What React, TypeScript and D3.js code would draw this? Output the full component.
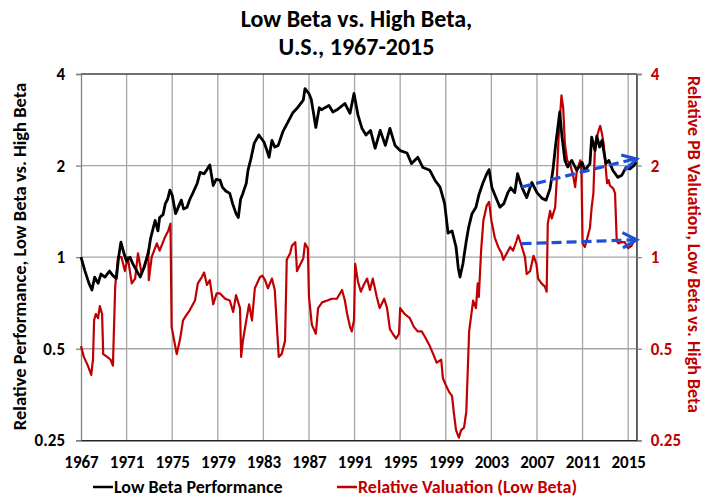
import React, { useEffect, useRef } from 'react';
import * as d3 from 'd3';

// [year, value]
const lowBetaPerf: [number, number][] = [
  [1967.0, 1.0], [1967.35, 0.9], [1967.7, 0.82], [1967.96, 0.78], [1968.2, 0.86], [1968.5, 0.82],
  [1968.75, 0.88], [1969.1, 0.86], [1969.5, 0.9], [1969.8, 0.87], [1970.1, 0.85], [1970.3, 1.0],
  [1970.5, 1.12], [1970.8, 1.02], [1971.0, 0.97], [1971.3, 1.0], [1971.55, 0.95], [1971.9, 0.9],
  [1972.2, 0.86], [1972.5, 0.92], [1972.9, 1.03], [1973.1, 1.15], [1973.5, 1.32], [1973.75, 1.22],
  [1973.9, 1.35], [1974.2, 1.38], [1974.4, 1.5], [1974.6, 1.55], [1974.8, 1.66], [1975.0, 1.6],
  [1975.3, 1.39], [1975.6, 1.48], [1975.8, 1.54], [1976.0, 1.44], [1976.3, 1.46], [1976.55, 1.55],
  [1976.8, 1.62], [1977.2, 1.75], [1977.45, 1.9], [1977.8, 1.88], [1978.05, 1.94], [1978.3, 2.01],
  [1978.6, 1.72], [1978.85, 1.8], [1979.2, 1.79], [1979.4, 1.7], [1979.7, 1.65], [1980.05, 1.62],
  [1980.3, 1.5], [1980.6, 1.39], [1980.8, 1.35], [1981.0, 1.55], [1981.2, 1.62], [1981.5, 1.75],
  [1981.65, 1.93], [1981.9, 2.1], [1982.2, 2.37], [1982.6, 2.52], [1983.05, 2.39], [1983.3, 2.25],
  [1983.5, 2.13], [1983.75, 2.42], [1984.0, 2.3], [1984.3, 2.33], [1984.7, 2.58], [1985.15, 2.78],
  [1985.6, 2.99], [1986.0, 3.1], [1986.5, 3.28], [1986.65, 3.58], [1987.0, 3.45], [1987.2, 3.3],
  [1987.4, 2.97], [1987.6, 2.67], [1987.9, 3.1], [1988.1, 3.05], [1988.4, 3.1], [1988.75, 3.15],
  [1989.1, 3.0], [1989.45, 3.05], [1989.7, 3.1], [1990.15, 3.2], [1990.6, 2.97], [1990.95, 3.45],
  [1991.3, 2.93], [1991.65, 2.65], [1992.0, 2.52], [1992.4, 2.61], [1992.8, 2.28], [1993.25, 2.61],
  [1993.7, 2.33], [1994.1, 2.65], [1994.55, 2.33], [1995.0, 2.24], [1995.6, 2.2], [1996.0, 2.03],
  [1996.55, 2.13], [1997.0, 1.97], [1997.6, 1.93], [1998.05, 1.79], [1998.5, 1.7], [1998.9, 1.5],
  [1999.2, 1.2], [1999.55, 1.22], [1999.9, 1.08], [2000.1, 0.92], [2000.25, 0.86], [2000.5, 0.95],
  [2000.8, 1.13], [2001.0, 1.25], [2001.3, 1.39], [2001.65, 1.46], [2001.9, 1.6], [2002.25, 1.75],
  [2002.6, 1.88], [2002.8, 1.94], [2003.05, 1.69], [2003.4, 1.57], [2003.75, 1.46], [2004.1, 1.5],
  [2004.45, 1.63], [2004.7, 1.69], [2005.05, 1.63], [2005.3, 1.88], [2005.7, 1.69], [2006.1, 1.57],
  [2006.55, 1.76], [2007.0, 1.63], [2007.45, 1.56], [2007.8, 1.54], [2008.15, 1.68], [2008.4, 1.93],
  [2008.65, 2.36], [2008.85, 2.7], [2009.0, 3.0], [2009.2, 2.48], [2009.45, 2.08], [2009.7, 1.98],
  [2010.05, 2.08], [2010.5, 1.93], [2010.95, 2.05], [2011.2, 1.93], [2011.65, 2.03], [2011.8, 2.48],
  [2012.1, 2.24], [2012.25, 2.5], [2012.5, 2.3], [2012.7, 2.42], [2013.05, 2.03], [2013.3, 2.08],
  [2013.65, 1.93], [2014.1, 1.83], [2014.45, 1.86], [2014.8, 1.97], [2015.15, 1.95], [2015.5, 2.0],
  [2015.7, 2.05],
];

const relValuation: [number, number][] = [
  [1967.0, 0.51], [1967.25, 0.47], [1967.6, 0.44], [1967.9, 0.41], [1968.05, 0.46], [1968.15, 0.62],
  [1968.3, 0.65], [1968.5, 0.63], [1968.65, 0.69], [1968.85, 0.65], [1968.95, 0.48], [1969.3, 0.47],
  [1969.6, 0.46], [1969.8, 0.44], [1970.0, 0.8], [1970.25, 1.0], [1970.55, 1.0], [1970.85, 0.9],
  [1971.1, 1.0], [1971.45, 0.82], [1971.75, 0.85], [1972.0, 1.03], [1972.3, 0.89], [1972.6, 0.93],
  [1972.9, 1.05], [1972.95, 0.84], [1973.2, 1.0], [1973.65, 1.11], [1973.9, 1.05], [1974.35, 1.16],
  [1974.65, 1.22], [1974.85, 1.29], [1974.95, 0.59], [1975.4, 0.48], [1975.7, 0.54], [1975.95, 0.62],
  [1976.3, 0.65], [1976.55, 0.67], [1977.0, 0.72], [1977.25, 0.82], [1977.6, 0.86], [1977.8, 0.89],
  [1978.05, 0.81], [1978.3, 0.84], [1978.6, 0.7], [1978.9, 0.76], [1979.2, 0.76], [1979.65, 0.73],
  [1980.05, 0.72], [1980.35, 0.66], [1980.6, 0.75], [1980.95, 0.68], [1981.05, 0.47], [1981.2, 0.53],
  [1981.5, 0.62], [1981.75, 0.7], [1982.0, 0.62], [1982.25, 0.79], [1982.7, 0.86], [1982.9, 0.87],
  [1983.15, 0.84], [1983.4, 0.79], [1983.75, 0.85], [1984.0, 0.78], [1984.2, 0.58], [1984.35, 0.47],
  [1984.6, 0.48], [1984.9, 0.53], [1985.05, 0.98], [1985.35, 1.03], [1985.5, 1.09], [1985.8, 1.12],
  [1985.95, 0.9], [1986.2, 0.94], [1986.5, 0.99], [1986.65, 1.11], [1986.9, 1.07], [1987.0, 0.74],
  [1987.25, 0.6], [1987.6, 0.56], [1987.8, 0.68], [1988.15, 0.71], [1988.6, 0.72], [1989.0, 0.73],
  [1989.45, 0.73], [1989.9, 0.78], [1990.15, 0.72], [1990.35, 0.65], [1990.6, 0.59], [1990.75, 0.57],
  [1990.95, 0.62], [1991.05, 0.95], [1991.3, 0.83], [1991.55, 0.77], [1991.8, 0.81], [1992.1, 0.85],
  [1992.35, 0.78], [1992.6, 0.85], [1992.95, 0.74], [1993.2, 0.68], [1993.6, 0.73], [1993.85, 0.68],
  [1994.1, 0.58], [1994.35, 0.56], [1994.65, 0.54], [1994.9, 0.56], [1995.0, 0.68], [1995.4, 0.65],
  [1995.85, 0.63], [1996.2, 0.59], [1996.55, 0.57], [1996.9, 0.57], [1997.25, 0.54], [1997.6, 0.51],
  [1997.9, 0.48], [1998.2, 0.45], [1998.6, 0.46], [1998.75, 0.4], [1999.0, 0.38], [1999.3, 0.36],
  [1999.55, 0.35], [1999.7, 0.31], [1999.9, 0.27], [2000.15, 0.255], [2000.35, 0.27], [2000.6, 0.275],
  [2000.8, 0.31], [2001.05, 0.57], [2001.2, 0.63], [2001.4, 0.72], [2001.65, 0.68], [2001.8, 0.82],
  [2001.9, 0.74], [2002.1, 1.05], [2002.3, 1.32], [2002.6, 1.48], [2002.8, 1.52], [2003.0, 1.32],
  [2003.3, 1.16], [2003.6, 1.08], [2003.9, 1.03], [2004.05, 0.98], [2004.35, 1.03], [2004.65, 1.08],
  [2004.9, 1.05], [2005.2, 1.13], [2005.35, 1.18], [2005.65, 1.09], [2005.95, 1.0], [2006.1, 0.88],
  [2006.4, 0.9], [2006.7, 1.01], [2006.95, 0.95], [2007.1, 0.85], [2007.4, 0.82], [2007.7, 0.8],
  [2007.85, 0.77], [2007.95, 1.29], [2008.15, 1.42], [2008.3, 1.34], [2008.6, 1.46], [2008.75, 1.83],
  [2008.9, 2.48], [2009.15, 3.4], [2009.3, 3.1], [2009.45, 2.36], [2009.65, 2.08], [2009.9, 2.03],
  [2010.2, 1.83], [2010.35, 1.7], [2010.5, 1.93], [2010.8, 2.08], [2010.9, 1.93], [2011.0, 1.11],
  [2011.2, 1.08], [2011.35, 1.13], [2011.65, 1.25], [2011.8, 1.46], [2011.95, 1.62], [2012.1, 2.36],
  [2012.4, 2.6], [2012.55, 2.7], [2012.7, 2.55], [2012.85, 2.36], [2013.0, 2.03], [2013.15, 1.75],
  [2013.3, 1.79], [2013.4, 1.72], [2013.7, 1.68], [2013.85, 1.62], [2014.0, 1.13], [2014.15, 1.11],
  [2014.4, 1.12], [2014.7, 1.12], [2015.0, 1.07], [2015.3, 1.09], [2015.45, 1.12], [2015.7, 1.15],
];

// dashed trend arrows: [from, to] in [year, value]
const trendArrows: [[number, number], [number, number]][] = [
  [[2005.65, 1.7], [2015.75, 2.1]],
  [[2005.65, 1.107], [2015.75, 1.14]],
];

const yearTicks = [1967, 1971, 1975, 1979, 1983, 1987, 1991, 1995, 1999, 2003, 2007, 2011, 2015];
const valueTicks = [0.25, 0.5, 1, 2, 4];

const FONT = "Carlito, Lato, 'Liberation Sans', sans-serif";
const RED = '#c00000';
const BLUE = '#1f4fd6';

const App: React.FC = () => {
  const svgRef = useRef<SVGSVGElement>(null);
  const width = 705;
  const height = 498;

  useEffect(() => {
    if (!svgRef.current) return;
    const svg = d3.select(svgRef.current);
    svg.selectAll('*').remove();

    const margin = { top: 74, right: 68.3, bottom: 57.7, left: 81 };
    const x = d3.scaleLinear().domain([1967, 2015.75]).range([margin.left, width - margin.right]);
    const y = d3.scaleLog().base(2).domain([0.25, 4]).range([height - margin.bottom, margin.top]);
    const x0 = margin.left, x1 = width - margin.right;
    const y0 = height - margin.bottom, y1 = margin.top;

    // grid
    svg.append('g').selectAll('line').data(yearTicks.slice(1)).join('line')
      .attr('x1', d => x(d)).attr('x2', d => x(d)).attr('y1', y1).attr('y2', y0)
      .attr('stroke', '#a6a6a6').attr('stroke-width', 1.3);
    svg.append('g').selectAll('line').data(valueTicks.slice(1, -1)).join('line')
      .attr('x1', x0).attr('x2', x1).attr('y1', d => y(d)).attr('y2', d => y(d))
      .attr('stroke', '#a6a6a6').attr('stroke-width', 1.3);

    // frame
    svg.append('line').attr('x1', x0).attr('x2', x1).attr('y1', y1).attr('y2', y1).attr('stroke', '#404040').attr('stroke-width', 1.3);
    svg.append('line').attr('x1', x1).attr('x2', x1).attr('y1', y1).attr('y2', y0).attr('stroke', '#595959').attr('stroke-width', 1.3);

    // left axis
    const yAxisL = svg.append('g').attr('transform', `translate(${x0},0)`)
      .call(d3.axisLeft(y).tickValues(valueTicks).tickFormat(d => String(d)).tickSize(5).tickPadding(11));
    yAxisL.select('.domain').attr('stroke', '#7f7f7f').attr('stroke-width', 1.3);
    yAxisL.selectAll('.tick line').attr('stroke', '#7f7f7f').attr('stroke-width', 1.3);
    yAxisL.selectAll('text').attr('font-family', FONT).attr('font-size', 17).attr('font-weight', 'bold').attr('fill', '#000');

    // right axis
    const yAxisR = svg.append('g').attr('transform', `translate(${x1},0)`)
      .call(d3.axisRight(y).tickValues(valueTicks).tickFormat(d => String(d)).tickSize(5).tickPadding(9));
    yAxisR.select('.domain').attr('stroke', '#595959').attr('stroke-width', 1.3);
    yAxisR.selectAll('.tick line').attr('stroke', '#7f7f7f').attr('stroke-width', 1.3);
    yAxisR.selectAll('text').attr('font-family', FONT).attr('font-size', 17).attr('font-weight', 'bold').attr('fill', RED);

    // bottom axis
    const xAxis = svg.append('g').attr('transform', `translate(0,${y0})`)
      .call(d3.axisBottom(x).tickValues(yearTicks).tickFormat(d => String(d)).tickSize(0).tickPadding(16));
    xAxis.select('.domain').attr('stroke', '#262626').attr('stroke-width', 1.5);
    xAxis.selectAll('text').attr('font-family', FONT).attr('font-size', 17).attr('font-weight', 'bold').attr('fill', '#000');

    const line = d3.line<[number, number]>().x(d => x(d[0])).y(d => y(d[1]));

    svg.append('path').datum(relValuation)
      .attr('fill', 'none').attr('stroke', RED).attr('stroke-width', 2.2).attr('stroke-linejoin', 'round')
      .attr('d', line);
    svg.append('path').datum(lowBetaPerf)
      .attr('fill', 'none').attr('stroke', '#000').attr('stroke-width', 2.8).attr('stroke-linejoin', 'round')
      .attr('d', line);

    // trend arrows
    trendArrows.forEach(([a, b]) => {
      const ax = x(a[0]), ay = y(a[1]), bx = x(b[0]), by = y(b[1]);
      svg.append('line').attr('x1', ax).attr('y1', ay).attr('x2', bx - 3).attr('y2', by)
        .attr('stroke', BLUE).attr('stroke-width', 3.2).attr('stroke-dasharray', '10,5');
      const ang = Math.atan2(by - ay, bx - ax);
      const len = 16, spread = 0.5;
      const p1: [number, number] = [bx - len * Math.cos(ang - spread), by - len * Math.sin(ang - spread)];
      const p2: [number, number] = [bx - len * Math.cos(ang + spread), by - len * Math.sin(ang + spread)];
      svg.append('path').attr('d', d3.line()([p1, [bx, by], p2]))
        .attr('fill', 'none').attr('stroke', BLUE).attr('stroke-width', 3.2).attr('stroke-linejoin', 'miter');
    });

    // title
    const title = svg.append('text').attr('text-anchor', 'middle').attr('font-family', FONT)
      .attr('font-size', 24).attr('font-weight', 'bold').attr('fill', '#000');
    title.append('tspan').attr('x', 356.5).attr('y', 27).text('Low Beta vs. High Beta,');
    title.append('tspan').attr('x', 356.5).attr('y', 55).text('U.S., 1967-2015');

    // axis titles
    svg.append('text').attr('transform', `translate(25.5,256.5) rotate(-90)`)
      .attr('text-anchor', 'middle').attr('font-family', FONT).attr('font-size', 18.5).attr('font-weight', 'bold')
      .attr('fill', '#000').text('Relative Performance, Low Beta vs. High Beta');
    svg.append('text').attr('transform', `translate(688,244.5) rotate(90)`)
      .attr('text-anchor', 'middle').attr('font-family', FONT).attr('font-size', 18).attr('font-weight', 'bold')
      .attr('fill', RED).text('Relative PB Valuation, Low Beta vs. High Beta');

    // legend
    const legend = svg.append('g').attr('font-family', FONT).attr('font-size', 18).attr('font-weight', 'bold');
    legend.append('line').attr('x1', 93).attr('x2', 113).attr('y1', 487).attr('y2', 487).attr('stroke', '#000').attr('stroke-width', 2.5);
    legend.append('text').attr('x', 114).attr('y', 492.5).attr('fill', '#000').text('Low Beta Performance');
    legend.append('line').attr('x1', 337).attr('x2', 357).attr('y1', 487).attr('y2', 487).attr('stroke', RED).attr('stroke-width', 2.5);
    legend.append('text').attr('x', 358).attr('y', 492.5).attr('fill', RED).text('Relative Valuation (Low Beta)');
  }, []);

  return (
    <svg ref={svgRef} width={width} height={height}
      style={{ position: 'absolute', left: 0, top: 0, background: '#fff' }} />
  );
};

export default App;
